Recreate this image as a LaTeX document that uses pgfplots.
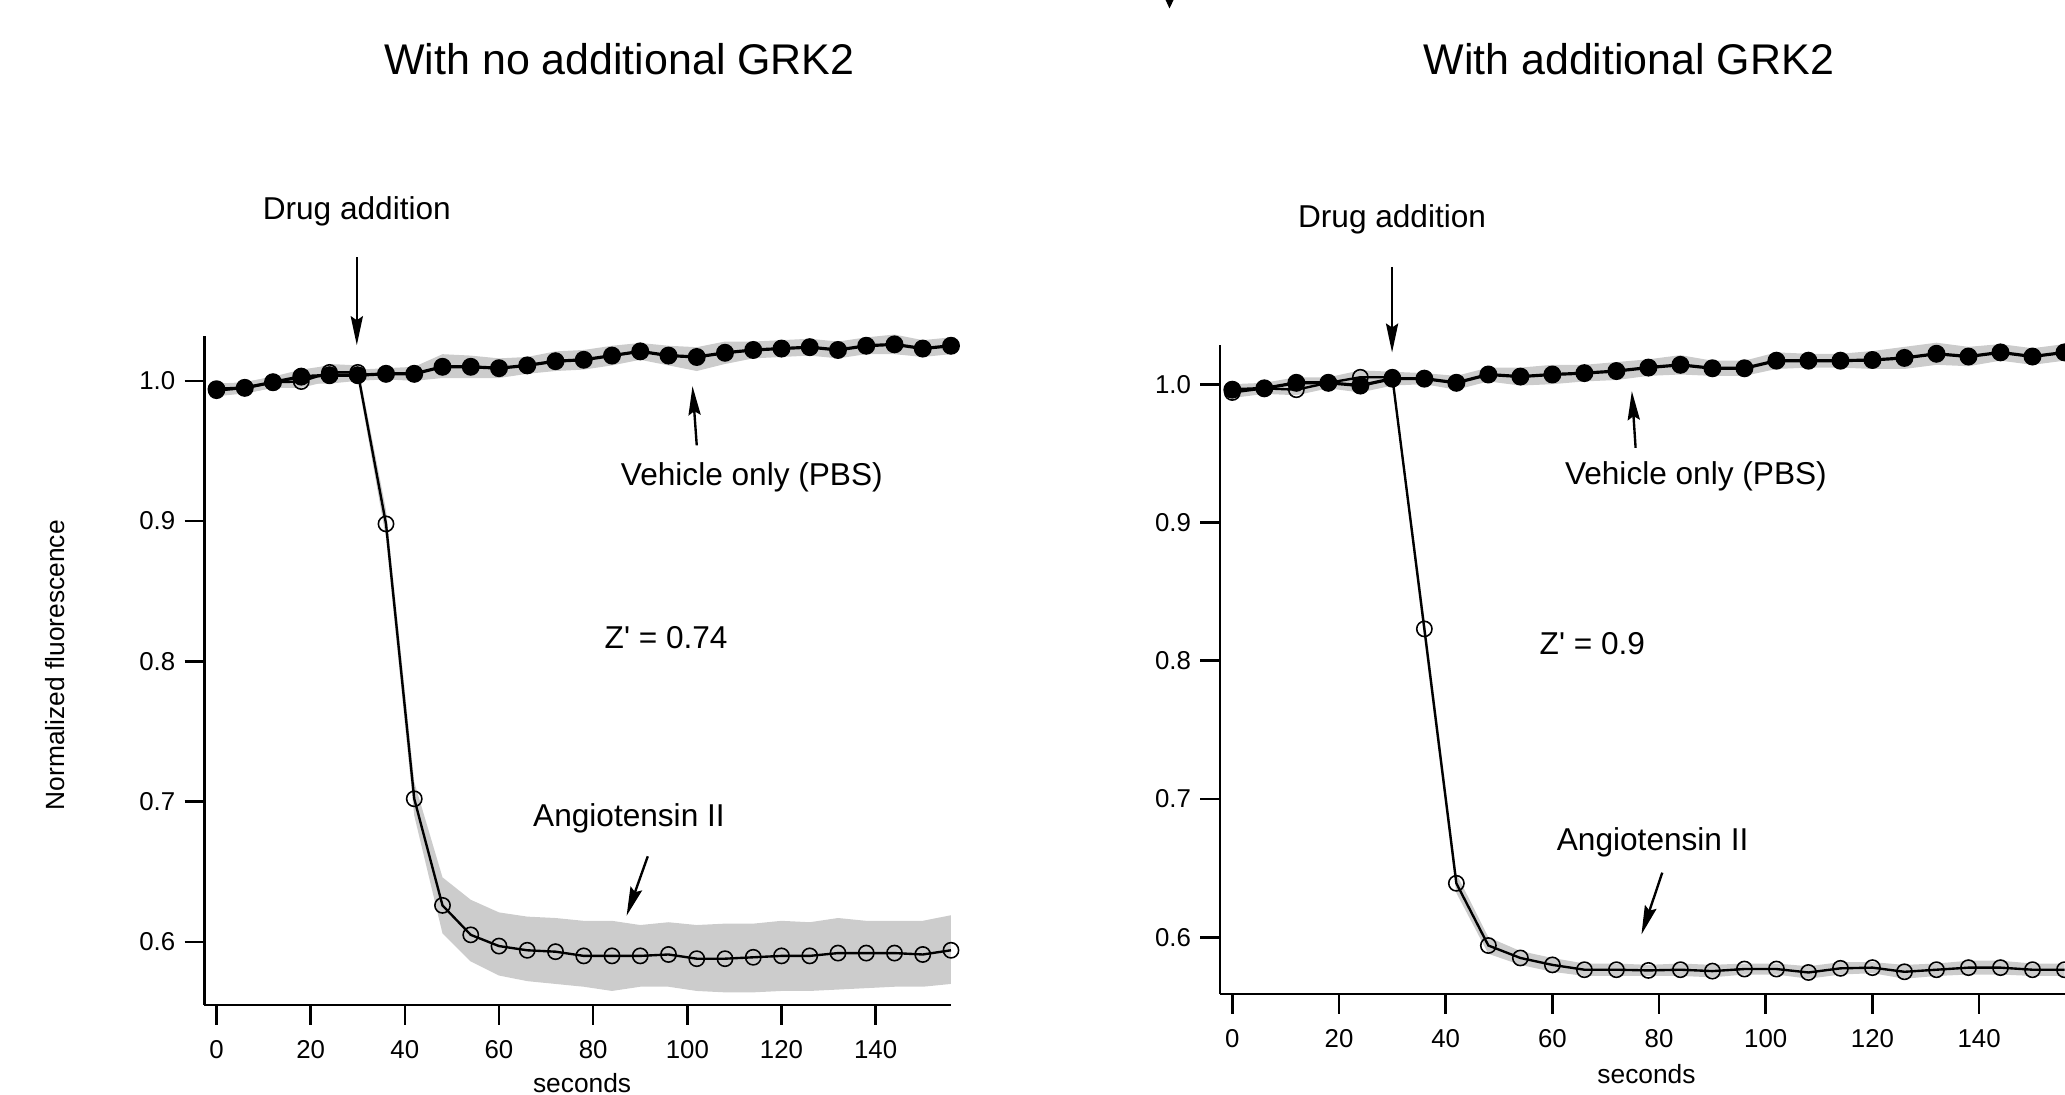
\documentclass[border=0pt]{standalone}
\usepackage{fontspec}
\setmainfont{Liberation Sans}
\usepackage{pgfplots}
\pgfplotsset{compat=1.18}
\usepackage{pgfplotstable}
\usepgfplotslibrary{fillbetween}
\usetikzlibrary{arrows.meta}
\definecolor{bandgray}{RGB}{204,204,204}

\pgfplotstableread{
x y lo hi
0 0.994 0.990 0.998
6 0.995 0.991 0.999
12 0.999 0.995 1.003
18 1.003 0.998 1.008
24 1.004 0.998 1.011
30 1.004 1.000 1.008
36 1.005 1.001 1.009
42 1.005 1.000 1.010
48 1.010 1.002 1.019
54 1.010 1.002 1.018
60 1.009 1.002 1.016
66 1.011 1.005 1.017
72 1.014 1.007 1.021
78 1.015 1.008 1.022
84 1.018 1.011 1.025
90 1.021 1.015 1.027
96 1.018 1.011 1.025
102 1.017 1.007 1.024
108 1.020 1.012 1.028
114 1.022 1.016 1.028
120 1.023 1.017 1.029
126 1.024 1.018 1.030
132 1.022 1.016 1.028
138 1.025 1.019 1.031
144 1.026 1.019 1.033
150 1.023 1.017 1.029
156 1.025 1.019 1.031
}\LeftVeh

\pgfplotstableread{
x y lo hi
0 0.993 0.989 0.997
6 0.995 0.991 0.999
12 0.999 0.995 1.003
18 0.9995 0.995 1.005
24 1.006 1.000 1.012
30 1.006 1.001 1.011
36 0.898 0.888 0.908
42 0.702 0.690 0.714
48 0.626 0.606 0.646
54 0.605 0.586 0.630
60 0.597 0.576 0.621
66 0.594 0.572 0.618
72 0.593 0.570 0.617
78 0.590 0.568 0.615
84 0.590 0.565 0.615
90 0.590 0.568 0.612
96 0.591 0.568 0.614
102 0.588 0.565 0.612
108 0.588 0.564 0.613
114 0.589 0.564 0.613
120 0.590 0.565 0.615
126 0.590 0.565 0.614
132 0.592 0.566 0.617
138 0.592 0.567 0.615
144 0.592 0.568 0.615
150 0.591 0.568 0.615
156 0.594 0.570 0.619
}\LeftAng

\pgfplotstableread{
x y lo hi
0 0.996 0.992 1.000
6 0.997 0.993 1.001
12 1.001 0.997 1.005
18 1.001 0.997 1.005
24 0.999 0.994 1.004
30 1.004 0.999 1.009
36 1.004 1.000 1.008
42 1.001 0.996 1.006
48 1.007 1.002 1.012
54 1.0055 0.999 1.012
60 1.007 1.000 1.014
66 1.008 1.002 1.014
72 1.0095 1.003 1.016
78 1.012 1.006 1.018
84 1.014 1.007 1.021
90 1.0115 1.006 1.017
96 1.0115 1.006 1.017
102 1.017 1.011 1.023
108 1.017 1.012 1.022
114 1.017 1.012 1.022
120 1.0175 1.011 1.024
126 1.019 1.011 1.027
132 1.022 1.014 1.030
138 1.020 1.013 1.027
144 1.023 1.017 1.029
150 1.020 1.014 1.026
156 1.023 1.017 1.029
}\RightVeh

\pgfplotstableread{
x y lo hi
0 0.994 0.990 0.998
6 0.997 0.993 1.001
12 0.996 0.992 1.000
18 1.001 0.997 1.005
24 1.005 1.000 1.010
30 1.005 1.001 1.009
36 0.823 0.815 0.831
42 0.639 0.632 0.646
48 0.594 0.588 0.600
54 0.585 0.580 0.590
60 0.580 0.575 0.585
66 0.5765 0.572 0.581
72 0.5765 0.572 0.581
78 0.576 0.572 0.580
84 0.5765 0.572 0.581
90 0.5755 0.571 0.580
96 0.577 0.573 0.581
102 0.577 0.573 0.581
108 0.5745 0.570 0.579
114 0.5775 0.573 0.582
120 0.578 0.574 0.582
126 0.575 0.570 0.580
132 0.5765 0.572 0.581
138 0.578 0.573 0.583
144 0.578 0.573 0.583
150 0.5765 0.572 0.581
156 0.5765 0.572 0.581
}\RightAng

\pgfplotsset{
  myax/.style={
    scale only axis, axis lines*=left, clip=false,
    tick align=outside, major tick length=7.5pt,
    xtick={0,20,...,140}, ytick={0.6,0.7,0.8,0.9,1.0},
    minor tick num=0,
    y tick label style={/pgf/number format/.cd, fixed, fixed zerofill, precision=1, /tikz/.cd},
    x tick label style={yshift=-2.5pt},
    /pgf/number format/assume math mode=true,
    tick style={line width=1pt, black},
    axis line style={line width=1pt, black},
    ticklabel style={font=\fontsize{9.8}{11}\selectfont},
  },
  veh/.style={black, line width=1.2pt, mark=*, mark size=2.8pt, mark options={solid, fill=black}},
  ang/.style={black, line width=0.9pt, mark=o, mark size=2.9pt, mark options={solid, line width=0.6pt}},
}
\tikzset{
  ann/.style={font=\fontsize{12}{14}\selectfont},
  arr/.style={line width=0.9pt, -{Stealth[length=11pt,width=4.6pt,inset=1.5pt]}},
}

\begin{document}
\begin{tikzpicture}
% ---------- left panel ----------
\begin{axis}[myax, at={(77.55pt,33.95pt)}, anchor=south west,
  width=283.5pt, height=254pt,
  xmin=-2.6, xmax=156, ymin=0.555, ymax=1.032]
  \addplot[draw=none, name path=lahi, forget plot] table[x=x,y=hi]{\LeftAng};
  \addplot[draw=none, name path=lalo, forget plot] table[x=x,y=lo]{\LeftAng};
  \addplot[fill=bandgray, draw=none, forget plot] fill between[of=lahi and lalo];
  \addplot[draw=none, name path=lvhi, forget plot] table[x=x,y=hi]{\LeftVeh};
  \addplot[draw=none, name path=lvlo, forget plot] table[x=x,y=lo]{\LeftVeh};
  \addplot[fill=bandgray, draw=none, forget plot] fill between[of=lvhi and lvlo];
  \addplot[ang] table[x=x,y=y]{\LeftAng};
  \addplot[veh] table[x=x,y=y]{\LeftVeh};

  \node[ann] at (axis cs:29.8,1.121) {Drug addition};
  \draw[arr] (axis cs:29.8,1.088) -- (axis cs:29.8,1.0254);
  \node[ann] at (axis cs:113.7,0.9315) {Vehicle only (PBS)};
  \draw[arr] (axis cs:102,0.954) -- (axis cs:101.1,0.9962);
  \node[ann] at (axis cs:95.5,0.817) {Z\textquotesingle\ = 0.74};
  \node[ann] at (axis cs:87.6,0.6883) {Angiotensin II};
  \draw[arr] (axis cs:91.6,0.661) -- (axis cs:87.1,0.6186);

  \node[rotate=90, font=\fontsize{10}{12}\selectfont] at (axis description cs:-0.1995,0.508) {Normalized fluorescence};
  \node[font=\fontsize{10}{12}\selectfont] at (axis description cs:0.506,-0.116) {seconds};
  \node[font=\fontsize{16.3}{19}\selectfont] at (axis description cs:0.556,1.413) {With no additional GRK2};
\end{axis}

% ---------- right panel ----------
\begin{axis}[myax, at={(463.2pt,38.15pt)}, anchor=south west,
  width=320.6pt, height=246.5pt,
  xmin=-2.3, xmax=156, ymin=0.559, ymax=1.0286]
  \addplot[draw=none, name path=rahi, forget plot] table[x=x,y=hi]{\RightAng};
  \addplot[draw=none, name path=ralo, forget plot] table[x=x,y=lo]{\RightAng};
  \addplot[fill=bandgray, draw=none, forget plot] fill between[of=rahi and ralo];
  \addplot[draw=none, name path=rvhi, forget plot] table[x=x,y=hi]{\RightVeh};
  \addplot[draw=none, name path=rvlo, forget plot] table[x=x,y=lo]{\RightVeh};
  \addplot[fill=bandgray, draw=none, forget plot] fill between[of=rvhi and rvlo];
  \addplot[ang] table[x=x,y=y]{\RightAng};
  \addplot[veh] table[x=x,y=y]{\RightVeh};

  \node[ann] at (axis cs:29.95,1.119) {Drug addition};
  \draw[arr] (axis cs:29.95,1.0848) -- (axis cs:29.95,1.0229);
  \node[ann] at (axis cs:86.9,0.9333) {Vehicle only (PBS)};
  \draw[arr] (axis cs:75.6,0.954) -- (axis cs:74.9,0.995);
  \node[ann] at (axis cs:67.5,0.8124) {Z\textquotesingle\ = 0.9};
  \node[ann] at (axis cs:78.8,0.6686) {Angiotensin II};
  \draw[arr] (axis cs:80.6,0.6467) -- (axis cs:76.7,0.602);

  \node[font=\fontsize{10}{12}\selectfont] at (axis description cs:0.505,-0.124) {seconds};
  \node[font=\fontsize{16.3}{19}\selectfont] at (axis description cs:0.484,1.440) {With additional GRK2};
\end{axis}

% cropped arrow tip at the top edge
\fill (442.3pt,416pt) -- (445.8pt,416pt) -- (444pt,412.3pt) -- cycle;

\pgfresetboundingbox
\path (0pt,0pt) rectangle (784pt,415.5pt);
\end{tikzpicture}
\end{document}
